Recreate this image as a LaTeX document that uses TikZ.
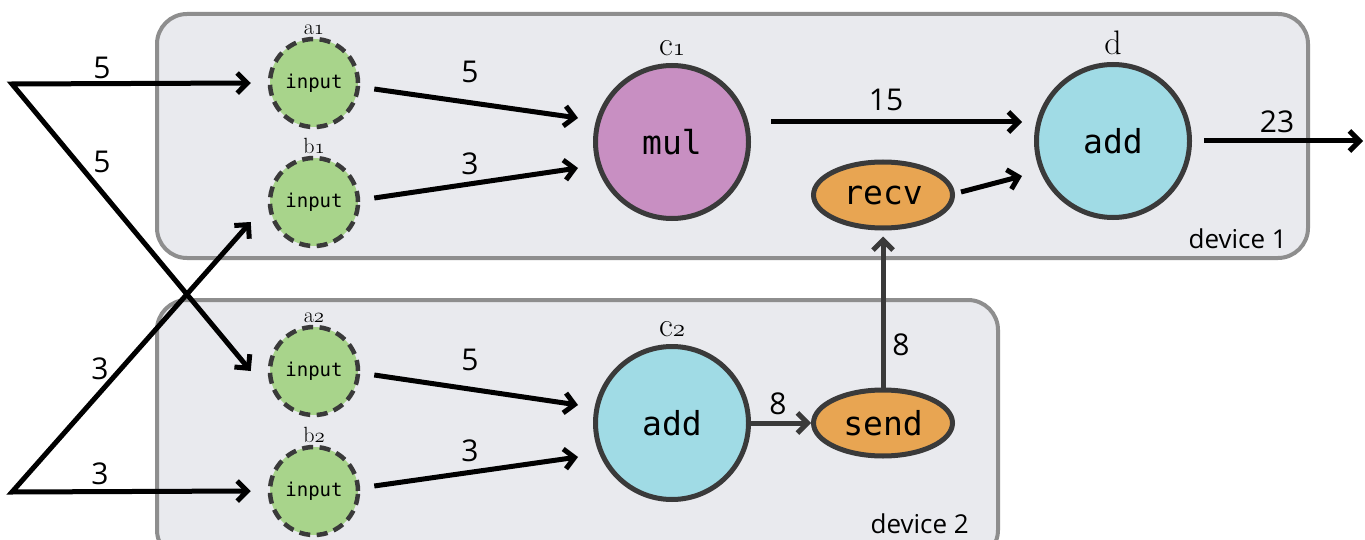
\documentclass[tikz,border=0pt]{standalone}
\usepackage{fontspec}
\newfontfamily\numfont{Open Sans}
\newfontfamily\opfont{DejaVu Sans Mono}
\usetikzlibrary{arrows.meta,shapes.geometric}
\definecolor{boxfill}{HTML}{E9EAEE}
\definecolor{boxline}{HTML}{8E8E8E}
\definecolor{nodeline}{HTML}{3A3A3A}
\definecolor{ingreen}{HTML}{A8D48B}
\definecolor{mulpurple}{HTML}{C88FC2}
\definecolor{addblue}{HTML}{A0DBE5}
\definecolor{commorange}{HTML}{E8A552}
\tikzset{
  devbox/.style={draw=boxline, line width=4pt, fill=boxfill, rounded corners=30pt},
  devname/.style={font=\numfont\fontsize{26}{26}\selectfont, inner sep=0pt, anchor=base east},
  inp/.style={circle, draw=nodeline, line width=4.5pt, dash pattern=on 11pt off 6.5pt,
    fill=ingreen, minimum size=88pt, inner sep=0pt, font=\opfont\fontsize{19}{19}\selectfont},
  op/.style={circle, draw=nodeline, line width=5pt, minimum size=153pt, inner sep=0pt,
    font=\opfont\fontsize{33}{33}\selectfont},
  comm/.style={ellipse, draw=nodeline, line width=5pt, fill=commorange,
    minimum width=139pt, minimum height=66pt, inner sep=0pt,
    font=\opfont\fontsize{33}{33}\selectfont},
  smalltag/.style={font=\fontsize{22}{22}\selectfont, inner sep=0pt, label distance=2pt},
  bigtag/.style={font=\fontsize{34}{34}\selectfont, inner sep=0pt, label distance=7pt},
  val/.style={font=\numfont\fontsize{30}{30}\selectfont, inner sep=0pt},
  barb/.tip={Straight Barb[length=10pt,width=20pt]},
  flow/.style={line width=5pt, line join=miter, -barb},
  grayflow/.style={flow, draw=nodeline}
}
\begin{document}
\begin{tikzpicture}[x=1pt,y=-1pt]
\clip (0,0) rectangle (1365,540);
\fill[white] (0,0) rectangle (1365,540);

% device frames
\draw[devbox] (157,14) rectangle (1308,258);
\draw[devbox] (157,300) rectangle (998,560);
\node[devname] (dev1) at (1287,248) {device 1};
\node[devname] (dev2) at (969,533) {device 2};

% device 1 nodes
\node[inp, label={[smalltag]above:a$\mathnormal{1}$}] (a1) at (314,83) {input};
\node[inp, label={[smalltag]above:b$\mathnormal{1}$}] (b1) at (314,202) {input};
\node[op, fill=mulpurple, label={[bigtag]above:c$\mathnormal{1}$}] (c1) at (672,142) {mul};
\node[op, fill=addblue, label={[bigtag]above:d}] (d) at (1113,141) {add};
\node[comm] (recv) at (883,195) {recv};

% device 2 nodes
\node[inp, label={[smalltag]above:a$\mathnormal{2}$}] (a2) at (314,371) {input};
\node[inp, label={[smalltag]above:b$\mathnormal{2}$}] (b2) at (314,491) {input};
\node[op, fill=addblue, label={[bigtag]above:c$\mathnormal{2}$}] (c2) at (672,423) {add};
\node[comm] (send) at (883,423) {send};

% feed points and output
\coordinate (s1) at (12,84);
\coordinate (s2) at (12,492);
\coordinate (out) at (1363,141);

% feeds
\draw[flow, barb-barb]
  ([xshift=-17pt]a2.west) -- (s1) -- ([xshift=-17pt]a1.west);
\draw[flow, barb-barb]
  ([xshift=-17pt,yshift=-20pt]b1.west) -- (s2) -- ([xshift=-17pt]b2.west);

% edges inside device 1
\draw[flow] ([xshift=14pt,yshift=-6pt]a1.east) -- ([xshift=-15pt,yshift=24pt]c1.west);
\draw[flow] ([xshift=14pt,yshift=4pt]b1.east) -- ([xshift=-15pt,yshift=-26pt]c1.west);
\draw[flow] ([xshift=20pt,yshift=20pt]c1.east) -- ([xshift=-12pt,yshift=19pt]d.west);
\draw[flow] ([xshift=6pt,yshift=3pt]recv.east) -- ([xshift=-12pt,yshift=-35pt]d.west);
\draw[flow, shorten <=12pt] (d.east) -- (out);

% edges inside device 2
\draw[flow] ([xshift=14pt,yshift=-4pt]a2.east) -- ([xshift=-15pt,yshift=18pt]c2.west);
\draw[flow] ([xshift=14pt,yshift=5pt]b2.east) -- ([xshift=-15pt,yshift=-34pt]c2.west);
\draw[grayflow] (c2.east) -- (send.west);
\draw[grayflow, shorten >=6pt] (send.north) -- (recv.south);

% values on the edges
\node[val] (v1) at (102,68) {5};
\node[val] (v2) at (102,162) {5};
\node[val] (v3) at (100,369) {3};
\node[val] (v4) at (100,474) {3};
\node[val] (v5) at (470,72) {5};
\node[val] (v6) at (470,164) {3};
\node[val] (v7) at (886,100) {15};
\node[val] (v8) at (1277,122) {23};
\node[val] (v9) at (470,360) {5};
\node[val] (v10) at (470,451) {3};
\node[val] (v11) at (778,404) {8};
\node[val] (v12) at (901,345) {8};
\end{tikzpicture}
\end{document}
